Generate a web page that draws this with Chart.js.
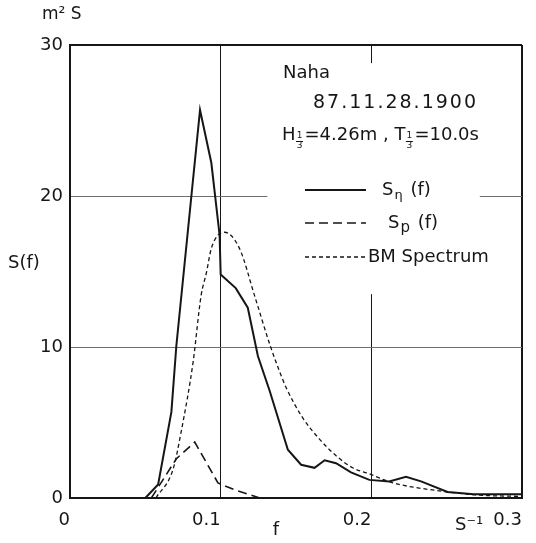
<!DOCTYPE html>
<html>
<head>
<meta charset="utf-8">
<script src="https://cdn.jsdelivr.net/npm/chart.js@4/dist/chart.umd.min.js"></script>
<style>
  html, body { margin: 0; padding: 0; background: #fff; }
  #wrap { width: 536px; height: 543px; position: relative; }
</style>
</head>
<body>
<div id="wrap"><canvas id="spectrum"></canvas></div>
<script>
// measured spectrum S_eta(f), m^2 s against f in 1/s
const fEta = [0.050, 0.0585, 0.0673, 0.0706, 0.0863, 0.0938, 0.0993, 0.100, 0.110, 0.118, 0.1247,
  0.1325, 0.1446, 0.1534, 0.1623, 0.169, 0.1766, 0.1865, 0.1987, 0.2119, 0.223, 0.233, 0.2506, 0.268, 0.300];
const sEta = [0, 0.9, 5.7, 10.1, 25.7, 22.2, 17.4, 14.8, 13.9, 12.6, 9.4,
  7.1, 3.2, 2.2, 2.0, 2.5, 2.3, 1.7, 1.2, 1.1, 1.4, 1.1, 0.4, 0.25, 0.25];

// pressure spectrum S_p(f)
const fP = [0.054, 0.0706, 0.0828, 0.0982, 0.109, 0.126];
const sP = [0, 2.6, 3.7, 1.0, 0.55, 0];

// Bretschneider-Mitsuyasu spectrum
const fBM = [0.057, 0.0684, 0.074, 0.0817, 0.087, 0.0905, 0.094, 0.1026, 0.1126, 0.1225, 0.1325, 0.139,
  0.1435, 0.1545, 0.1656, 0.1766, 0.1876, 0.1987, 0.2086, 0.2185, 0.247, 0.270, 0.300];
const sBM = [0, 1.9, 4.5, 9.0, 13.4, 14.9, 16.6, 17.6, 16.5, 13.4, 10.2, 8.4,
  7.3, 5.3, 3.9, 2.8, 2.0, 1.6, 1.2, 0.9, 0.45, 0.2, 0.1];

const xTickLabels = ["0", "0.1", "0.2", "0.3"];
const yTickLabels = ["0", "10", "20", "30"];

const ink = "#161616";
const face = "DejaVu Sans";

const pts = (xs, ys) => xs.map((x, i) => ({ x: x, y: ys[i] }));
const near = (a, b) => Math.abs(a - b) < 1e-6;

function text(ctx, s, x, y, size, align) {
  ctx.font = size + "px '" + face + "'";
  ctx.textAlign = align || "left";
  ctx.fillText(s, x, y);
  return x + ctx.measureText(s).width;
}

// small stacked 1/3 written as a subscript
function third(ctx, x, y) {
  ctx.save();
  ctx.font = "9px '" + face + "'";
  ctx.textAlign = "center";
  ctx.fillText("1", x + 4, y - 2);
  ctx.fillRect(x + 0.5, y + 3, 7, 1);
  ctx.fillText("3", x + 4, y + 8);
  ctx.restore();
  return x + 9;
}

function legendLine(ctx, y, dash, width) {
  ctx.save();
  ctx.strokeStyle = ink;
  ctx.lineWidth = width;
  ctx.setLineDash(dash);
  ctx.beginPath();
  ctx.moveTo(305, y);
  ctx.lineTo(366, y);
  ctx.stroke();
  ctx.restore();
}

const annotations = {
  id: "annotations",
  beforeDatasetsDraw(chart) {
    // the caption block sits on a blank patch that interrupts the grid
    const { ctx, scales: { x, y } } = chart;
    const l = x.getPixelForValue(0.131), r = x.getPixelForValue(0.272);
    const t = y.getPixelForValue(28.8), b = y.getPixelForValue(13.5);
    ctx.save();
    ctx.fillStyle = "#fff";
    ctx.fillRect(l, t, r - l, b - t);
    ctx.restore();
  },
  afterDraw(chart) {
    const ctx = chart.ctx;
    ctx.save();
    ctx.fillStyle = ink;
    ctx.textBaseline = "middle";

    // axis units and names
    text(ctx, "m² S", 42, 15, 17);
    text(ctx, "S(f)", 8, 263, 18);
    text(ctx, "f", 276, 530, 18, "center");
    text(ctx, "S⁻¹", 455, 525, 18);

    // station, date and wave statistics
    text(ctx, "Naha", 283, 73, 18);
    ctx.letterSpacing = "2px";
    text(ctx, "87.11.28.1900", 313, 103, 19);
    ctx.letterSpacing = "0px";
    let cx = text(ctx, "H", 282, 135, 18);
    cx = third(ctx, cx, 138);
    cx = text(ctx, "=4.26m , T", cx, 135, 18);
    cx = third(ctx, cx, 138);
    text(ctx, "=10.0s", cx, 135, 18);

    // legend
    legendLine(ctx, 190, [], 2);
    legendLine(ctx, 223, [9, 5], 1.6);
    legendLine(ctx, 257, [4, 3], 1.3);
    cx = text(ctx, "S", 382, 190, 18);
    cx = text(ctx, "η", cx + 1, 196, 13);
    text(ctx, " (f)", cx + 2, 190, 18);
    cx = text(ctx, "S", 388, 223, 18);
    cx = text(ctx, "p", cx + 1, 228, 15);
    text(ctx, " (f)", cx + 2, 223, 18);
    text(ctx, "BM Spectrum", 368, 257, 18);
    ctx.restore();
  }
};

Chart.defaults.font.family = face;
Chart.defaults.color = ink;

new Chart(document.getElementById("spectrum"), {
  type: "line",
  data: {
    datasets: [
      {
        label: "S_eta(f)",
        data: pts(fEta, sEta),
        borderColor: ink,
        borderWidth: 2,
        pointRadius: 0,
        tension: 0
      },
      {
        label: "S_p(f)",
        data: pts(fP, sP),
        borderColor: ink,
        borderWidth: 1.6,
        borderDash: [9, 5],
        pointRadius: 0,
        tension: 0
      },
      {
        label: "BM Spectrum",
        data: pts(fBM, sBM),
        borderColor: ink,
        borderWidth: 1.3,
        borderDash: [4, 3],
        pointRadius: 0,
        cubicInterpolationMode: "monotone"
      }
    ]
  },
  options: {
    responsive: true,
    maintainAspectRatio: false,
    animation: false,
    layout: { padding: { top: 45, right: 14, left: 0, bottom: 0 } },
    plugins: { legend: { display: false }, tooltip: { enabled: false } },
    scales: {
      x: {
        type: "linear",
        min: 0,
        max: 0.3,
        afterFit: (s) => { s.height = 45; },
        afterBuildTicks: (s) => { s.ticks = [0, 0.1, 0.2, 0.3].map(v => ({ value: v })); },
        ticks: {
          autoSkip: false,
          maxRotation: 0,
          align: "end",
          padding: 12,
          font: { size: 18 },
          callback: (v, i) => xTickLabels[i]
        },
        grid: {
          drawTicks: false,
          color: ink,
          lineWidth: (c) => (near(c.tick.value, 0) || near(c.tick.value, 0.3)) ? 2 : 1
        },
        border: { display: true, color: ink, width: 2 }
      },
      y: {
        type: "linear",
        min: 0,
        max: 30,
        afterFit: (s) => { s.width = 70; },
        afterBuildTicks: (s) => { s.ticks = [0, 10, 20, 30].map(v => ({ value: v })); },
        ticks: {
          padding: 7,
          font: { size: 18 },
          callback: (v, i) => yTickLabels[i]
        },
        grid: {
          drawTicks: false,
          color: (c) => (near(c.tick.value, 0) || near(c.tick.value, 30)) ? ink : "#6e6e6e",
          lineWidth: (c) => (near(c.tick.value, 0) || near(c.tick.value, 30)) ? 2 : 1
        },
        border: { display: true, color: ink, width: 2 }
      }
    }
  },
  plugins: [annotations]
});
</script>
</body>
</html>
